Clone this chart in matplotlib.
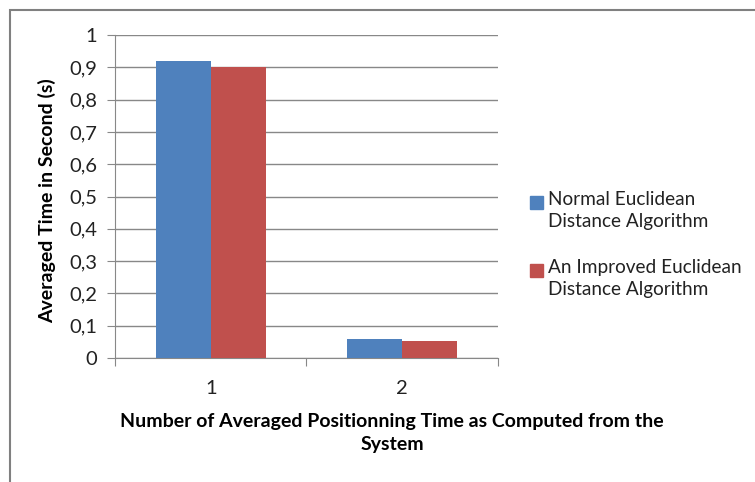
import matplotlib

matplotlib.use("Agg")
import matplotlib.pyplot as plt
import numpy as np
from matplotlib.patches import Rectangle

categories = ["1", "2"]
normal_vals = [0.92, 0.06]
improved_vals = [0.90, 0.053]
series_labels = ["Normal Euclidean\nDistance Algorithm",
                 "An Improved Euclidean\nDistance Algorithm"]
y_ticks = [0, 0.1, 0.2, 0.3, 0.4, 0.5, 0.6, 0.7, 0.8, 0.9, 1]
y_tick_labels = ["0", "0,1", "0,2", "0,3", "0,4", "0,5", "0,6", "0,7", "0,8", "0,9", "1"]

BLUE = "#4F81BD"
RED = "#C0504D"
GRID = "#888888"
TXT = "#222222"
FONT = ["Lato", "DejaVu Sans"]

plt.rcParams["font.family"] = FONT

W, H = 755, 482
fig = plt.figure(figsize=(W / 100, H / 100), dpi=100)
ax = fig.add_axes([115 / W, 1 - 358 / H, (498 - 115) / W, (358 - 35) / H])

# outer chart frame (runs off right/bottom edges)
fig.patches.append(Rectangle((10 / W, -0.1), 1.2, 1 - 10 / H + 0.1,
                             transform=fig.transFigure, fill=False,
                             edgecolor="#808080", lw=1.5))

x = np.arange(1, len(categories) + 1)
w = 0.286
ax.bar(x - w / 2, normal_vals, w, color=BLUE, zorder=3)
ax.bar(x + w / 2, improved_vals, w, color=RED, zorder=3)

ax.set_xlim(0.5, 2.5)
ax.set_ylim(0, 1)
ax.set_yticks(y_ticks)
ax.set_yticklabels(y_tick_labels)
ax.set_xticks([0.5, 1.5, 2.5])
ax.set_xticklabels([])
ax.set_xticks(x, minor=True)
ax.set_xticklabels(categories, minor=True)
ax.tick_params(axis="x", which="minor", length=0, pad=16)
ax.tick_params(axis="x", which="major", length=6, color=GRID)
ax.tick_params(axis="y", length=6, color=GRID, pad=7)
ax.tick_params(which="both", labelsize=14.5, labelcolor=TXT)
ax.grid(axis="y", color=GRID, lw=1, zorder=0)

for side in ["top", "right"]:
    ax.spines[side].set_visible(False)
for side in ["left", "bottom"]:
    ax.spines[side].set_color(GRID)

fig.text(47 / W, 1 - 201 / H, "Averaged Time in Second (s)", rotation=90,
         ha="center", va="center", fontsize=14, fontweight="bold", color="black")
fig.text(392 / W, 1 - 433 / H,
         "Number of Averaged Positionning Time as Computed from the\nSystem",
         ha="center", va="center", fontsize=14, fontweight="bold",
         color="black", linespacing=1.4)

# legend drawn by hand: swatch aligned with first label line
for label, color, y0 in zip(series_labels, [BLUE, RED], [202, 270]):
    fig.patches.append(Rectangle((530 / W, 1 - (y0 + 6.5) / H), 13 / W, 13 / H,
                                 transform=fig.transFigure, color=color))
    fig.text(548 / W, 1 - (y0 - 11) / H, label, ha="left", va="top",
             fontsize=13.7, color=TXT, linespacing=1.38)

fig.savefig("out.png", dpi=100, facecolor="white")
